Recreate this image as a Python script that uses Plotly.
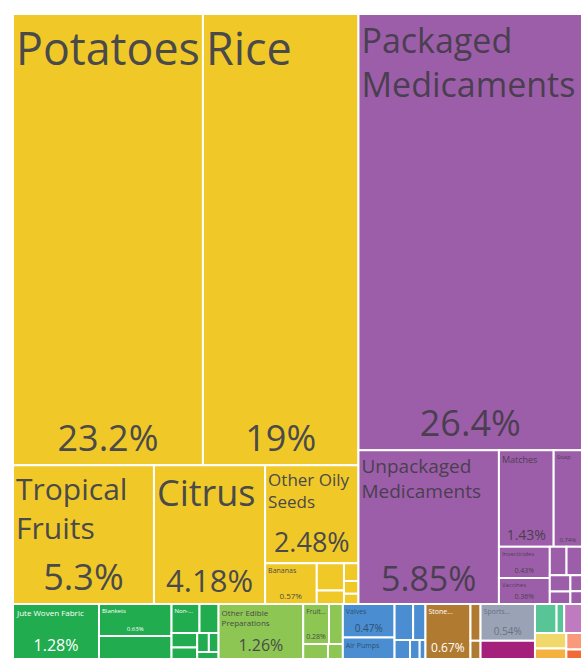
import plotly.graph_objects as go

# sectors: name, colour, text colour
sectors = ["Vegetable Products", "Chemical Products", "Textiles", "Foodstuffs",
           "Machines", "Stone and Glass", "Miscellaneous", "Plastics and Rubbers",
           "Footwear and Headwear", "Wood Products", "Paper Goods",
           "Animal and Vegetable Bi-Products", "Animal Hides", "Animal Products"]
sector_colors = ["#f0c929", "#9d5ea9", "#21ac4f", "#8dc653", "#4a8ed1", "#b17a31",
                 "#9aa3b6", "#a5207a", "#58c596", "#c07ac0", "#f0d86a", "#f5b13e",
                 "#f89a7b", "#f26a35"]
sector_text = ["#4a4a4a", "#4a3f50", "#ffffff", "#4a4a4a", "#2f4f6f", "#ffffff",
               "#6a7080", "#ffffff", "#4a4a4a", "#4a4a4a", "#4a4a4a", "#4a4a4a",
               "#4a4a4a", "#4a4a4a"]

# products per sector (share of exports, %)
veg_items = ["Potatoes", "Rice", "Tropical Fruits", "Citrus", "Other Oily Seeds",
             "Bananas", "Ginger", "Dried Legumes", "Tea", "Pepper", "Wheat"]
veg_values = [23.2, 19, 5.3, 4.18, 2.48, 0.57, 0.2, 0.1, 0.07, 0.05, 0.04]

chem_items = ["Packaged Medicaments", "Unpackaged Medicaments", "Matches", "Soap",
              "Insecticides", "Vaccines", "Cleaning Products", "Perfumes",
              "Fertilizers", "Glues", "Dyes", "Pigments"]
chem_values = [26.4, 5.85, 1.43, 0.74, 0.43, 0.36, 0.13, 0.12, 0.09, 0.07, 0.05, 0.04]

tex_items = ["Jute Woven Fabric", "Blankets", "Jute Yarn", "Non-Retail Synthetic Yarn",
             "Knit Sweaters", "Carpets", "T-shirts", "Sacks", "Twine", "Felt"]
tex_values = [1.28, 0.63, 0.45, 0.22, 0.15, 0.1, 0.08, 0.06, 0.05, 0.04]

food_items = ["Other Edible Preparations", "Fruit Juice", "Animal Food", "Water", "Sauces"]
food_values = [1.26, 0.28, 0.15, 0.1, 0.06]

mach_items = ["Valves", "Air Pumps", "Electric Motors", "Transformers",
              "Electrical Parts", "Centrifuges", "Pumps"]
mach_values = [0.47, 0.3, 0.18, 0.12, 0.08, 0.05, 0.03]

stone_items = ["Worked Stone", "Glass Bottles", "Ceramic Tiles"]
stone_values = [0.67, 0.1, 0.05]

misc_items = ["Sports Equipment"]
misc_values = [0.54]

plas_items = ["Rubber Tires"]
plas_values = [0.27]

foot_items = ["Footwear", "Hats"]
foot_values = [0.17, 0.06]

wood_items = ["Wood Carvings"]
wood_values = [0.14]

paper_items = ["Paper Notebooks"]
paper_values = [0.13]

oil_items = ["Vegetable Oils"]
oil_values = [0.09]

hide_items = ["Animal Hair"]
hide_values = [0.07]

anim_items = ["Honey"]
anim_values = [0.04]

groups = [veg_items, chem_items, tex_items, food_items, mach_items, stone_items,
          misc_items, plas_items, foot_items, wood_items, paper_items, oil_items,
          hide_items, anim_items]
group_values = [veg_values, chem_values, tex_values, food_values, mach_values,
                stone_values, misc_values, plas_values, foot_values, wood_values,
                paper_values, oil_values, hide_values, anim_values]

# text shown in the cells: label, label font size, percent font size
shown = {
    "Potatoes": ("Potatoes", 45, 36),
    "Rice": ("Rice", 45, 36),
    "Packaged Medicaments": ("Packaged<br>Medicaments", 34, 36),
    "Tropical Fruits": ("Tropical<br>Fruits", 30, 36),
    "Citrus": ("Citrus", 36, 31),
    "Other Oily Seeds": ("Other Oily<br>Seeds", 17, 27),
    "Unpackaged Medicaments": ("Unpackaged<br>Medicaments", 19, 34),
    "Bananas": ("Bananas", 7, 8),
    "Matches": ("Matches", 9, 14),
    "Soap": ("Soap", 6, 6),
    "Insecticides": ("Insecticides", 6, 7),
    "Vaccines": ("Vaccines", 6, 7),
    "Jute Woven Fabric": ("Jute Woven Fabric", 8, 16),
    "Blankets": ("Blankets", 6, 6),
    "Non-Retail Synthetic Yarn": ("Non-...", 6, 0),
    "Other Edible Preparations": ("Other Edible<br>Preparations", 8, 16),
    "Fruit Juice": ("Fruit...", 7, 8),
    "Valves": ("Valves", 7, 10),
    "Air Pumps": ("Air Pumps", 7, 0),
    "Worked Stone": ("Stone...", 7, 12),
    "Sports Equipment": ("Sports...", 7, 10),
}

ids, parents, values, colors, tcolors = ["All"], [""], [0], ["white"], ["#4a4a4a"]
label_text, pct_text, lsize, psize = [""], [""], [10], [10]
for sec, col, tc, names, vals in zip(sectors, sector_colors, sector_text, groups, group_values):
    ids.append(sec)
    parents.append("All")
    values.append(0)
    colors.append(col)
    tcolors.append(tc)
    label_text.append("")
    pct_text.append("")
    lsize.append(10)
    psize.append(10)
    for n, v in zip(names, vals):
        ids.append(n)
        parents.append(sec)
        values.append(v)
        colors.append(col)
        tcolors.append(tc)
        lab, ls, ps = shown.get(n, ("", 6, 0))
        label_text.append(lab)
        pct_text.append("{:g}%".format(v) if ps else "")
        lsize.append(ls)
        psize.append(ps if ps else 6)

common = dict(
    ids=ids, labels=ids, parents=parents, values=values,
    branchvalues="remainder", sort=True,
    tiling=dict(packing="squarify", squarifyratio=1.618, pad=0),
    pathbar=dict(visible=False),
    hoverinfo="skip",
    textinfo="text",
)

labels_trace = go.Treemap(
    **common,
    text=label_text,
    textposition="top left",
    textfont=dict(family="Open Sans", size=lsize, color=tcolors),
    marker=dict(colors=colors, line=dict(color="white", width=2),
                pad=dict(t=0, l=0, r=0, b=0)),
)

pct_trace = go.Treemap(
    **common,
    text=pct_text,
    textposition="bottom center",
    textfont=dict(family="Open Sans", size=psize, color=tcolors),
    marker=dict(colors=["rgba(0,0,0,0)"] * len(ids), line=dict(width=0),
                pad=dict(t=0, l=0, r=0, b=0)),
)

fig = go.Figure(data=[labels_trace, pct_trace])
fig.update_layout(
    width=582, height=659,
    margin=dict(l=13, r=0, t=14, b=0),
    paper_bgcolor="white",
    showlegend=False,
)
fig.write_html(
    "out.html",
    config={"displayModeBar": False},
    post_script="document.body.style.margin='0';document.body.style.overflow='hidden';",
)
